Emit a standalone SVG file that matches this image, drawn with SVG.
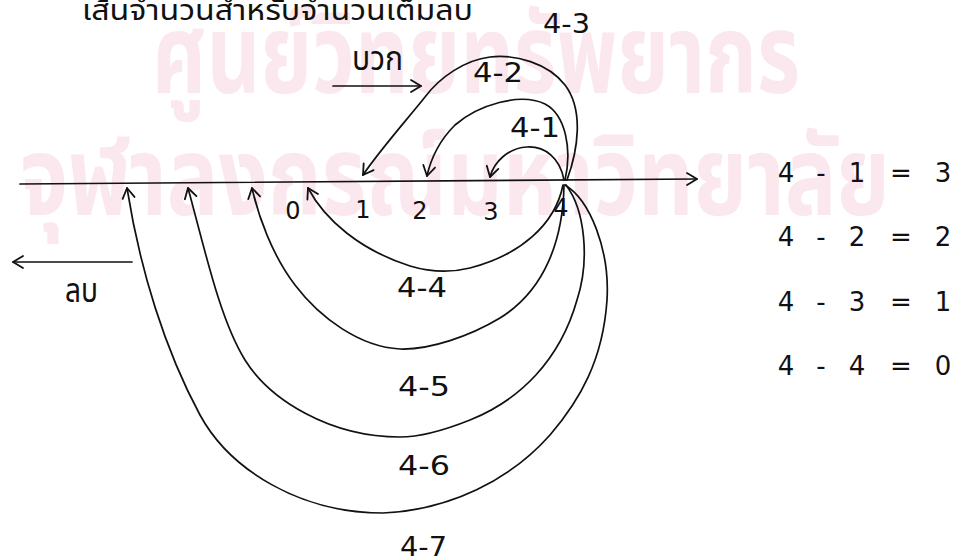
<svg xmlns="http://www.w3.org/2000/svg" width="956" height="557" viewBox="0 0 956 557">
<style>
.wm{font-family:'Noto Sans Thai','Noto Sans','DejaVu Sans',sans-serif;font-weight:700;fill:#fbe8ef}
.th{font-family:'Noto Sans Thai','Noto Sans','DejaVu Sans',sans-serif;fill:#111}
.d{font-family:'DejaVu Sans','Liberation Sans',sans-serif;fill:#111}
.lbl{font-size:27px}
.eq{font-size:26px;text-anchor:middle}
.tk{font-size:24px;text-anchor:middle}
.ln{fill:none;stroke:#111;stroke-width:1.7;stroke-linecap:round;stroke-linejoin:round}
</style>
<defs>
<marker id="ah" viewBox="-13 -9 15 18" markerWidth="15" markerHeight="18" refX="0" refY="0" orient="auto" markerUnits="userSpaceOnUse">
<path d="M-10,-6 L0,0 L-10,6" fill="none" stroke="#111" stroke-width="1.8" stroke-linecap="round" stroke-linejoin="round"/>
</marker>
</defs>
<rect width="956" height="557" fill="#fff"/>
<g id="watermark">
<text class="wm" x="152" y="93" font-size="110" textLength="648" lengthAdjust="spacingAndGlyphs">ศูนย์วิทยทรัพยากร</text>
<text class="wm" x="20" y="215" font-size="110" textLength="870" lengthAdjust="spacingAndGlyphs">จุฬาลงกรณ์มหาวิทยาลัย</text>
</g>
<g id="title">
<text class="th" x="82" y="20" font-size="28" textLength="391" lengthAdjust="spacingAndGlyphs">เส้นจำนวนสำหรับจำนวนเต็มลบ</text>
</g>
<g id="connectors">
<path id="number-line" class="ln" d="M20,184 L697,179" marker-end="url(#ah)"/>
<path id="plus-arrow" class="ln" d="M333,86 L421,86" marker-end="url(#ah)"/>
<path id="minus-arrow" class="ln" d="M132,262 L13,262" marker-end="url(#ah)"/>
<path id="arc-4-1" class="ln" d="M564,180 C560,158 545,146 527,147 C508,148 494,162 490,177" marker-end="url(#ah)"/>
<path id="arc-4-2" class="ln" d="M565,180 C572,150 566,115 545,104 C520,92 478,105 455,125 C440,140 431,158 427,176" marker-end="url(#ah)"/>
<path id="arc-4-3" class="ln" d="M567,180 C578,150 584,110 565,85 C548,63 515,54 490,57 C465,60 440,77 425,97 C405,122 380,150 363,175" marker-end="url(#ah)"/>
<path id="arc-4-4" class="ln" d="M563,185 C555,225 520,255 470,268 C450,273 430,272 410,266 C360,250 325,220 308,188" marker-end="url(#ah)"/>
<path id="arc-4-5" class="ln" d="M564,185 C563,240 545,290 500,318 C470,336 430,350 400,349 C360,347 320,318 295,285 C272,255 258,215 252,188" marker-end="url(#ah)"/>
<path id="arc-4-6" class="ln" d="M566,185 C585,210 590,260 577,300 C560,360 520,400 470,420 C440,432 420,437 400,437 C330,437 270,400 245,360 C220,320 205,250 188,188" marker-end="url(#ah)"/>
<path id="arc-4-7" class="ln" d="M565,185 C590,200 610,250 607,300 C603,360 580,400 550,435 C510,480 450,510 383,513 C300,513 230,470 200,415 C165,350 140,270 127,188" marker-end="url(#ah)"/>
</g>
<g id="labels">
<text class="th" x="352" y="70" font-size="34" textLength="51" lengthAdjust="spacingAndGlyphs">บวก</text>
<text class="th" x="65" y="302" font-size="34" textLength="33" lengthAdjust="spacingAndGlyphs">ลบ</text>
<text class="d lbl" x="543" y="33" textLength="47" lengthAdjust="spacingAndGlyphs">4-3</text>
<text class="d lbl" x="473" y="82" textLength="50" lengthAdjust="spacingAndGlyphs">4-2</text>
<text class="d lbl" x="510" y="137" textLength="50" lengthAdjust="spacingAndGlyphs">4-1</text>
<text class="d lbl" x="397" y="297" textLength="50" lengthAdjust="spacingAndGlyphs">4-4</text>
<text class="d lbl" x="398" y="396" textLength="52" lengthAdjust="spacingAndGlyphs">4-5</text>
<text class="d lbl" x="398" y="475" textLength="52" lengthAdjust="spacingAndGlyphs">4-6</text>
<text class="d lbl" x="400" y="556" textLength="47" lengthAdjust="spacingAndGlyphs">4-7</text>
</g>
<g id="ticks">
<text class="d tk" x="293" y="219">0</text>
<text class="d tk" x="363" y="218">1</text>
<text class="d tk" x="420" y="219">2</text>
<text class="d tk" x="491" y="220">3</text>
<text class="d tk" x="561" y="216" font-size="18">4</text>
</g>
<g id="equations">
<g id="eq1"><text class="d eq" x="786" y="182">4</text><text class="d eq" x="821" y="182">-</text><text class="d eq" x="857" y="182">1</text><text class="d eq" x="901" y="182">=</text><text class="d eq" x="943" y="182">3</text></g>
<g id="eq2"><text class="d eq" x="786" y="246">4</text><text class="d eq" x="821" y="246">-</text><text class="d eq" x="857" y="246">2</text><text class="d eq" x="901" y="246">=</text><text class="d eq" x="943" y="246">2</text></g>
<g id="eq3"><text class="d eq" x="786" y="311">4</text><text class="d eq" x="821" y="311">-</text><text class="d eq" x="857" y="311">3</text><text class="d eq" x="901" y="311">=</text><text class="d eq" x="943" y="311">1</text></g>
<g id="eq4"><text class="d eq" x="786" y="375">4</text><text class="d eq" x="821" y="375">-</text><text class="d eq" x="857" y="375">4</text><text class="d eq" x="901" y="375">=</text><text class="d eq" x="943" y="375">0</text></g>
</g>
</svg>
